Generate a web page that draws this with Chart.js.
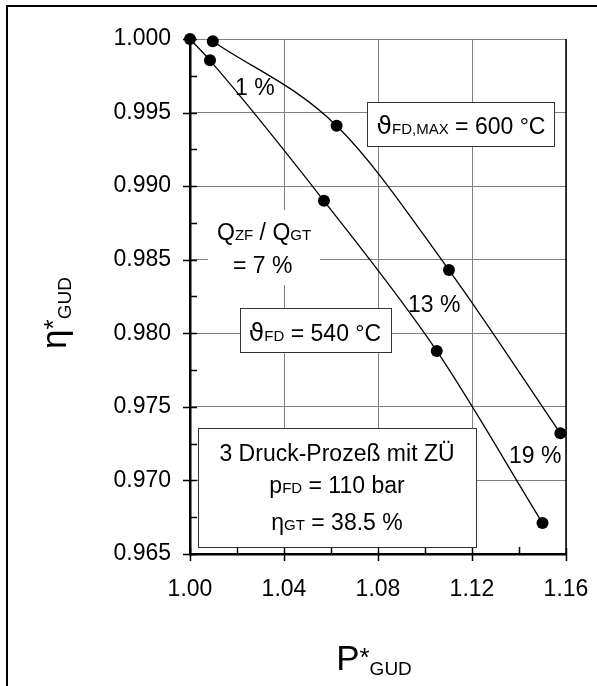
<!DOCTYPE html>
<html>
<head>
<meta charset="utf-8">
<script src="https://cdn.jsdelivr.net/npm/chart.js@4.4.1/dist/chart.umd.min.js"></script>
<style>
  html, body { margin: 0; padding: 0; background: #fff; }
  canvas { display: block; }
</style>
</head>
<body>
<canvas id="gudChart" width="597" height="686"></canvas>
<script>
// Werte
var p540   = [1.000, 1.0085, 1.057, 1.105, 1.150];
var eta540 = [1.0000, 0.99855, 0.9890, 0.9788, 0.9671];
var p600   = [1.0097, 1.0624, 1.1102, 1.1576];
var eta600 = [0.99985, 0.9941, 0.9843, 0.9732];

var xTickVals  = [1.00, 1.04, 1.08, 1.12, 1.16];
var xMinorVals = [1.02, 1.06, 1.10, 1.14];
var yTickVals  = [0.965, 0.970, 0.975, 0.980, 0.985, 0.990, 0.995, 1.000];
var yMinorVals = [0.9675, 0.9725, 0.9775, 0.9825, 0.9875, 0.9925, 0.9975];

var FONT = '"Liberation Sans", Arial, sans-serif';
var F = '23px ' + FONT;
var S = '15px ' + FONT;
var TH = '25px "DejaVu Sans", sans-serif';

function toPoints(xs, ys) {
    var pts = [];
    for (var i in xs) {
        pts.push({x: xs[i], y: ys[i]});
    }
    return pts;
}

// Text mit Indizes nebeneinander zeichnen
function richText(ctx, parts, x, y, align) {
    var w = 0;
    parts.forEach(function (p) { ctx.font = p[1]; w += ctx.measureText(p[0]).width; });
    var cx = align == "center" ? x - w / 2 : x;
    parts.forEach(function (p) {
        ctx.font = p[1];
        ctx.fillText(p[0], cx, y + (p[2] || 0));
        cx += ctx.measureText(p[0]).width;
    });
}

function box(ctx, x, y, w, h) {
    ctx.fillStyle = "#fff";
    ctx.fillRect(x, y, w, h);
    ctx.strokeStyle = "#333";
    ctx.lineWidth = 1;
    ctx.strokeRect(x + 0.5, y + 0.5, w, h);
    ctx.fillStyle = "#000";
}

var annotations = {
    id: "annotations",
    beforeDatasetsDraw: function (chart) {
        var ctx = chart.ctx;
        var xs = chart.scales.x, ys = chart.scales.y;
        var area = chart.chartArea;
        ctx.save();
        // Teilstriche
        ctx.strokeStyle = "#000";
        ctx.lineWidth = 1.5;
        ctx.beginPath();
        yTickVals.forEach(function (v) {
            var py = Math.round(ys.getPixelForValue(v)) + 0.5;
            ctx.moveTo(area.left - 7, py); ctx.lineTo(area.left + 7, py);
        });
        yMinorVals.forEach(function (v) {
            var py = Math.round(ys.getPixelForValue(v)) + 0.5;
            ctx.moveTo(area.left, py); ctx.lineTo(area.left + 7, py);
        });
        xTickVals.forEach(function (v) {
            var px = Math.round(xs.getPixelForValue(v)) + 0.5;
            ctx.moveTo(px, area.bottom - 6); ctx.lineTo(px, area.bottom + 7);
        });
        xMinorVals.forEach(function (v) {
            var px = Math.round(xs.getPixelForValue(v)) + 0.5;
            ctx.moveTo(px, area.bottom - 7); ctx.lineTo(px, area.bottom);
        });
        ctx.stroke();
        // rechter Rand
        ctx.lineWidth = 1.5;
        ctx.beginPath();
        ctx.moveTo(area.right, area.top); ctx.lineTo(area.right, area.bottom);
        ctx.stroke();

        ctx.textBaseline = "alphabetic";
        // Q-Verhaeltnis
        ctx.fillStyle = "#fff";
        ctx.fillRect(208, 210, 112, 75);
        ctx.fillStyle = "#000";
        richText(ctx, [["Q", F], ["ZF", S], [" / Q", F], ["GT", S]], 217, 240);
        richText(ctx, [["= 7 %", F]], 233, 273);
        richText(ctx, [["1 %", F]], 235, 95);
        richText(ctx, [["13 %", F]], 408, 312);
        richText(ctx, [["19 %", F]], 509, 463);

        box(ctx, 367, 102, 187, 44);
        richText(ctx, [["\u03D1", TH], ["FD,MAX", S], [" = 600 \u00B0C", F]], 461, 134, "center");

        box(ctx, 240, 308, 151, 44);
        richText(ctx, [["\u03D1", TH], ["FD", S], [" = 540 \u00B0C", F]], 315, 341, "center");

        box(ctx, 198, 428, 278, 119);
        richText(ctx, [["3 Druck-Proze\u00DF mit Z\u00DC", F]], 337, 461, "center");
        richText(ctx, [["p", F], ["FD", S], [" = 110 bar", F]], 337, 493, "center");
        richText(ctx, [["\u03B7", F], ["GT", S], [" = 38.5 %", F]], 337, 530, "center");
        ctx.restore();
    },
    afterDraw: function (chart) {
        var ctx = chart.ctx;
        ctx.save();
        ctx.fillStyle = "#000";
        ctx.textBaseline = "alphabetic";
        // Achsentitel
        var BIG = '35px ' + FONT, SUB = '19px ' + FONT;
        richText(ctx, [["P", BIG], ["*", '26px ' + FONT, -4], ["GUD", SUB, 5]], 374, 670, "center");
        ctx.translate(66, 313);
        ctx.rotate(-Math.PI / 2);
        richText(ctx, [["\u03B7", BIG], ["*", '26px ' + FONT, -4], ["GUD", SUB, 5]], 0, 0, "center");
        ctx.restore();
        // Rahmen
        ctx.save();
        ctx.strokeStyle = "#000";
        ctx.lineWidth = 2;
        ctx.strokeRect(7, 6, 700, 720);
        ctx.restore();
    }
};

var gudChart = new Chart(document.getElementById("gudChart").getContext("2d"), {
    type: "scatter",
    data: {
        datasets: [
            {
                label: "540 °C",
                data: toPoints(p540, eta540),
                showLine: true,
                borderColor: "#000",
                borderWidth: 1.3,
                backgroundColor: "#000",
                pointRadius: 6,
                pointBorderWidth: 0,
                cubicInterpolationMode: "monotone",
                clip: false,
            },
            {
                label: "600 °C",
                data: toPoints(p600, eta600),
                showLine: true,
                borderColor: "#000",
                borderWidth: 1.3,
                backgroundColor: "#000",
                pointRadius: 6,
                pointBorderWidth: 0,
                cubicInterpolationMode: "monotone",
                clip: false,
            }
        ],
    },
    options: {
        responsive: false,
        animation: false,
        devicePixelRatio: 1,
        layout: { padding: { top: 39, right: 31, left: 0, bottom: 0 } },
        plugins: { legend: { display: false }, tooltip: { enabled: false } },
        scales: {
            x: {
                type: "linear",
                min: 1.00,
                max: 1.16,
                afterBuildTicks: function (s) { s.ticks = xTickVals.map(function (v) { return {value: v}; }); },
                afterFit: function (s) { s.height = 132; s.paddingLeft = 0; s.paddingRight = 0; },
                ticks: {
                    callback: function (v) { return v.toFixed(2); },
                    font: { family: FONT, size: 23 },
                    color: "#000",
                    padding: 22,
                    maxRotation: 0,
                },
                grid: { color: "#808080", lineWidth: 1, drawTicks: false },
                border: { color: "#000", width: 2.5 },
            },
            y: {
                type: "linear",
                min: 0.965,
                max: 1.0,
                afterBuildTicks: function (s) { s.ticks = yTickVals.map(function (v) { return {value: v}; }); },
                afterFit: function (s) { s.width = 190; s.paddingTop = 0; s.paddingBottom = 0; },
                ticks: {
                    callback: function (v) { return v.toFixed(3); },
                    font: { family: FONT, size: 23 },
                    color: "#000",
                    padding: 19,
                },
                grid: { color: "#808080", lineWidth: 1, drawTicks: false },
                border: { color: "#000", width: 2.5 },
            }
        }
    },
    plugins: [annotations]
});
</script>
</body>
</html>
